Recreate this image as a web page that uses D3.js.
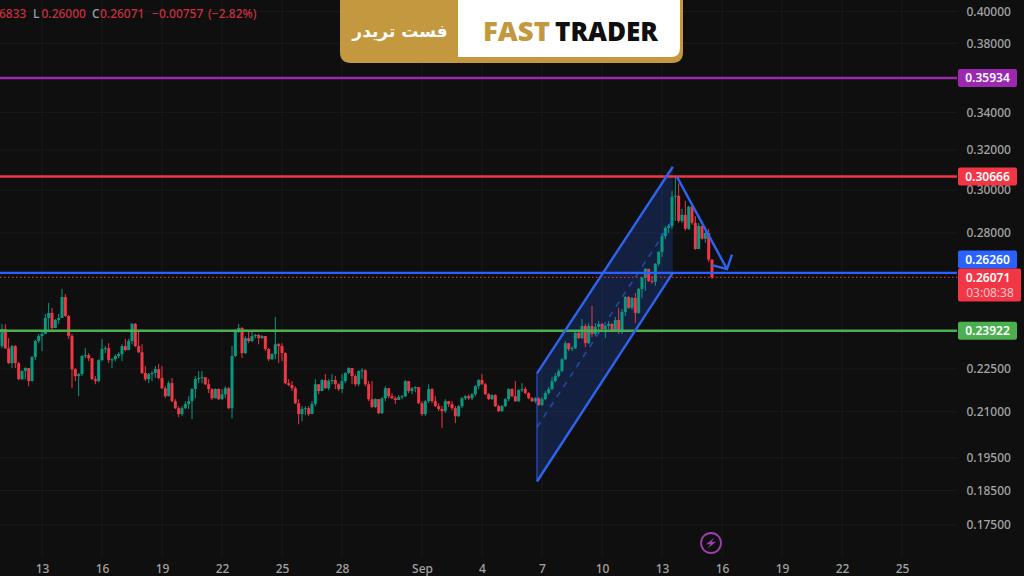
<!DOCTYPE html>
<html>
<head>
<meta charset="utf-8">
<script src="https://cdn.jsdelivr.net/npm/d3@7/dist/d3.min.js"></script>
<style>
html,body{margin:0;padding:0;background:#0f0f0f;overflow:hidden}
svg{display:block}
text{font-family:"Noto Sans",sans-serif}
</style>
</head>
<body>
<svg id="chart" width="1024" height="576"></svg>
<script>
// Four-hour candles, starting 11 Aug
const firstOpen = 0.2334;
const closes = [
.2399,.2326,.2271,.2334,.2271,.2213,.2242,.2253,.2206,.2293,.2353,.2372,.2380,.2442,.2462,.2403,.2434,.2442,.2526,.2450,
.2372,.2249,.2224,.2231,.2297,.2300,.2289,.2213,.2206,.2282,.2323,.2326,.2282,.2285,.2297,.2304,.2334,.2319,.2353,.2419,
.2334,.2311,.2235,.2213,.2231,.2235,.2249,.2217,.2181,.2153,.2199,.2136,.2112,.2092,.2112,.2126,.2136,.2178,.2213,.2217,
.2220,.2195,.2178,.2146,.2178,.2143,.2160,.2181,.2112,.2297,.2391,.2403,.2308,.2364,.2353,.2372,.2376,.2364,.2372,.2323,
.2285,.2304,.2341,.2334,.2308,.2199,.2192,.2181,.2129,.2092,.2109,.2112,.2092,.2126,.2195,.2171,.2210,.2181,.2206,.2210,
.2195,.2178,.2206,.2235,.2253,.2224,.2195,.2242,.2245,.2195,.2143,.2116,.2143,.2095,.2146,.2181,.2153,.2146,.2140,.2150,
.2153,.2206,.2171,.2181,.2185,.2129,.2092,.2136,.2178,.2136,.2119,.2109,.2102,.2136,.2126,.2112,.2085,.2119,.2146,.2153,
.2146,.2160,.2188,.2210,.2195,.2160,.2143,.2157,.2119,.2102,.2119,.2143,.2178,.2153,.2136,.2174,.2178,.2164,.2146,.2136,
.2146,.2123,.2143,.2164,.2178,.2206,.2224,.2242,.2285,.2345,.2323,.2326,.2384,.2364,.2411,.2345,.2411,.2380,.2407,.2419,
.2399,.2411,.2419,.2391,.2434,.2387,.2466,.2526,.2482,.2522,.2462,.2559,.2605,.2643,.2592,.2588,.2664,.2716,.2786,.2823,
.2832,.2968,.2973,.2855,.2883,.2819,.2921,.2846,.2729,.2832,.2774,.2800,.26828,.26071
];
const highs = [
.2418,.2418,.2364,.2338,.2338,.2275,.2245,.2256,.2253,.2297,.2357,.2380,.2391,.2458,.2502,.2482,.2438,.2458,.2559,.2538,
.2454,.2380,.2253,.2235,.2300,.2326,.2308,.2289,.2224,.2285,.2361,.2334,.2345,.2289,.2304,.2311,.2341,.2361,.2361,.2422,
.2422,.2391,.2341,.2260,.2235,.2242,.2260,.2267,.2260,.2188,.2206,.2217,.2143,.2119,.2119,.2136,.2153,.2181,.2224,.2242,
.2242,.2217,.2213,.2181,.2181,.2181,.2178,.2188,.2185,.2334,.2399,.2419,.2407,.2372,.2391,.2391,.2380,.2380,.2376,.2372,
.2326,.2308,.2446,.2345,.2345,.2311,.2213,.2206,.2188,.2143,.2119,.2119,.2119,.2136,.2213,.2195,.2213,.2231,.2213,.2231,
.2224,.2199,.2231,.2238,.2256,.2253,.2231,.2245,.2253,.2249,.2206,.2206,.2146,.2143,.2150,.2188,.2181,.2164,.2153,.2157,
.2157,.2210,.2206,.2185,.2188,.2181,.2136,.2140,.2195,.2181,.2153,.2129,.2119,.2143,.2136,.2136,.2119,.2123,.2150,.2157,
.2160,.2164,.2192,.2213,.2231,.2199,.2164,.2160,.2160,.2123,.2123,.2146,.2181,.2181,.2206,.2178,.2199,.2185,.2167,.2150,
.2150,.2150,.2150,.2171,.2185,.2220,.2235,.2249,.2289,.2353,.2345,.2334,.2395,.2391,.2438,.2419,.2422,.2490,.2422,.2430,
.2422,.2415,.2430,.2422,.2446,.2482,.2478,.2530,.2530,.2526,.2542,.2563,.2609,.2647,.2626,.2613,.2668,.2720,.2800,.2832,
.2841,.2997,.3065,.3032,.2911,.2949,.2925,.2930,.2878,.2846,.2832,.2828,.2819,.26833
];
const lows = [
.2326,.2323,.2267,.2253,.2253,.2210,.2210,.2213,.2188,.2206,.2282,.2345,.2315,.2380,.2391,.2391,.2403,.2419,.2442,.2446,
.2361,.2181,.2206,.2153,.2224,.2289,.2278,.2210,.2195,.2202,.2278,.2308,.2271,.2253,.2278,.2289,.2278,.2315,.2319,.2341,
.2330,.2308,.2231,.2206,.2199,.2206,.2217,.2213,.2178,.2146,.2153,.2133,.2109,.2082,.2085,.2109,.2109,.2075,.2146,.2199,
.2199,.2192,.2164,.2140,.2146,.2140,.2140,.2146,.2109,.2078,.2293,.2384,.2289,.2304,.2345,.2349,.2364,.2341,.2361,.2315,
.2278,.2282,.2285,.2271,.2278,.2195,.2188,.2171,.2126,.2058,.2068,.2088,.2085,.2095,.2119,.2160,.2171,.2178,.2174,.2195,
.2178,.2171,.2164,.2199,.2231,.2195,.2188,.2188,.2213,.2188,.2136,.2112,.2112,.2092,.2092,.2136,.2146,.2143,.2126,.2140,
.2143,.2150,.2164,.2160,.2167,.2126,.2085,.2085,.2129,.2129,.2116,.2102,.2045,.2095,.2116,.2105,.2062,.2082,.2112,.2140,
.2140,.2140,.2153,.2178,.2192,.2157,.2140,.2140,.2116,.2099,.2099,.2116,.2136,.2150,.2133,.2133,.2167,.2160,.2143,.2133,
.2129,.2119,.2119,.2140,.2160,.2174,.2202,.2220,.2238,.2282,.2315,.2315,.2323,.2361,.2361,.2330,.2341,.2368,.2372,.2380,
.2391,.2364,.2399,.2387,.2387,.2380,.2380,.2450,.2478,.2474,.2422,.2458,.2522,.2551,.2588,.2580,.2572,.2655,.2694,.2773,
.2800,.2819,.2855,.2846,.2846,.2810,.2814,.2837,.2725,.2729,.2770,.2756,.2673,.26000
];
const priceTicks = [0.4,0.38,0.34,0.32,0.3,0.28,0.225,0.21,0.195,0.185,0.175];
const dayTicks = [
  [7,13,"13"],[7,16,"16"],[7,19,"19"],[7,22,"22"],[7,25,"25"],[7,28,"28"],[8,1,"Sep"],[8,4,"4"],
  [8,7,"7"],[8,10,"10"],[8,13,"13"],[8,16,"16"],[8,19,"19"],[8,22,"22"],[8,25,"25"]
];
const levelValues = [0.35934,0.30666,0.26260,0.23922];
const levelColors = ["#9c27b0","#f23645","#2962ff","#4caf50"];
const lastPrice = 0.26071;
const countdown = "03:08:38";
const headerParts = [
  ["6833","#c8303f"],["L","#a0a0a0"],["0.26000","#c8303f"],["C","#a0a0a0"],["0.26071","#c8303f"],
  ["\u22120.00757","#c8303f"],["(\u22122.82%)","#c8303f"]
];
const headerStarts = [-1,33,41.5,92,100,152,208];
// Channel corners and the arrow as date/price anchors
const channelStart = [8,6,18], channelEnd = [8,13,13];
const channelTop = [0.2234,0.3115], channelMid = [0.2048,0.2860], channelBottom = [0.1877,0.2626];
const arrowPath = [[8,13,18,0.3065],[8,16,6,0.2642]];
const arrowWingA = [8,15,12,0.2659];
const arrowWingB = [8,16,12,0.2704];

const GREEN = "#089981", RED = "#f23645", BLUE = "#2e63f0";
const utc = (m,d,h=0) => new Date(Date.UTC(2024,m,d,h));
const x = d3.scaleUtc().domain([utc(7,13),utc(8,25)]).range([42,902]);
const y = d3.scaleLog().domain([0.4,0.175]).range([11.4,525]);
const plotRight = 957;
const svg = d3.select("#chart");
svg.append("rect").attr("width",1024).attr("height",576).attr("fill","#0f0f0f");

// Grid
const tickDates = dayTicks.map(t => utc(t[0],t[1]));
svg.append("g").selectAll("line").data(tickDates).join("line")
  .attr("x1",d=>x(d)).attr("x2",d=>x(d)).attr("y1",0).attr("y2",556)
  .attr("stroke","#1a1a1a");
svg.append("g").selectAll("line").data(priceTicks).join("line")
  .attr("x1",0).attr("x2",plotRight).attr("y1",d=>y(d)).attr("y2",d=>y(d))
  .attr("stroke","#1a1a1a");

// Axes
const labelByTime = new Map(dayTicks.map(t => [+utc(t[0],t[1]),t[2]]));
const xAxis = svg.append("g").attr("transform","translate(0,556)")
  .call(d3.axisBottom(x).tickValues(tickDates).tickSize(0).tickPadding(8).tickFormat(d=>labelByTime.get(+d)));
const yAxis = svg.append("g").attr("transform",`translate(966.5,0)`)
  .call(d3.axisRight(y).tickValues(priceTicks).tickSize(0).tickPadding(0).tickFormat(d3.format(".5f")));
[xAxis,yAxis].forEach(a=>{
  a.select(".domain").remove();
  a.selectAll("text").attr("fill","#a3a3a3").style("font-size","12px").style("font-weight",500).style("font-family",'"Noto Sans",sans-serif');
});

// Channel fill and its borders
const cx0 = x(utc(...channelStart)), cx1 = x(utc(...channelEnd));
const area = svg.append("g");
area.append("path")
  .attr("d",`M${cx0},${y(channelTop[0])}L${cx1},${y(channelTop[1])}L${cx1},${y(channelBottom[1])}L${cx0},${y(channelBottom[0])}Z`)
  .attr("fill","#2962ff").attr("fill-opacity",0.2);

// Candles
const candles = closes.map((c,i)=>({
  t:d3.utcHour.offset(utc(7,11),4*i),
  o:i?closes[i-1]:firstOpen, c, h:highs[i], l:lows[i]
}));
const bars = svg.append("g").selectAll("g").data(candles).join("g")
  .attr("fill",d=>d.c>=d.o?GREEN:RED).attr("stroke",d=>d.c>=d.o?GREEN:RED);
bars.append("line").attr("x1",d=>x(d.t)).attr("x2",d=>x(d.t))
  .attr("y1",d=>y(d.h)).attr("y2",d=>y(d.l)).attr("stroke-width",1);
bars.append("rect").attr("x",d=>x(d.t)-1.5).attr("width",3).attr("stroke","none")
  .attr("y",d=>y(Math.max(d.o,d.c))).attr("height",d=>Math.max(1,Math.abs(y(d.o)-y(d.c))));

// Horizontal levels and the last price line
svg.append("line").attr("x1",0).attr("x2",plotRight).attr("y1",y(lastPrice)).attr("y2",y(lastPrice))
  .attr("stroke",RED).attr("stroke-dasharray","1.5 2.5").attr("stroke-width",1.2).attr("stroke-opacity",0.8);
svg.append("g").selectAll("line").data(levelValues).join("line")
  .attr("x1",0).attr("x2",plotRight).attr("y1",d=>y(d)).attr("y2",d=>y(d))
  .attr("stroke",(d,i)=>levelColors[i]).attr("stroke-width",2.4);

// Channel lines over the candles
const channelLine = (pair,dash) => svg.append("line")
  .attr("x1",cx0).attr("x2",cx1).attr("y1",y(pair[0])).attr("y2",y(pair[1]))
  .attr("stroke",BLUE).attr("stroke-width",dash?1.6:2.4).attr("stroke-opacity",dash?0.6:1).attr("stroke-dasharray",dash||null);
channelLine(channelTop); channelLine(channelBottom); channelLine(channelMid,"6 6");
svg.append("line").attr("x1",cx0).attr("x2",cx0).attr("y1",y(channelTop[0])).attr("y2",y(channelBottom[0]))
  .attr("stroke",BLUE).attr("stroke-width",1.2).attr("stroke-opacity",0.8);

// Arrow from the peak down to the target
const pt = a => [x(utc(a[0],a[1],a[2])),y(a[3])];
const tip = pt(arrowPath[1]);
const arrowLine = d3.line();
svg.append("path").attr("d",arrowLine([pt(arrowPath[0]),tip])).attr("fill","none").attr("stroke",BLUE).attr("stroke-width",2.4);
svg.append("path").attr("d",arrowLine([pt(arrowWingA),tip,pt(arrowWingB)])).attr("fill","none").attr("stroke",BLUE).attr("stroke-width",2.4);

// Price tags on the axis
const tagY = [y(levelValues[0]),y(levelValues[1]),259.5,y(levelValues[3])];
levelValues.forEach((v,i)=>{
  svg.append("rect").attr("x",958).attr("y",tagY[i]-9).attr("width",59).attr("height",18).attr("rx",2).attr("fill",levelColors[i]);
  svg.append("text").attr("x",987.5).attr("y",tagY[i]+4.3).attr("text-anchor","middle")
    .attr("fill","#fff").style("font-size","12px").style("font-weight",600).text(d3.format(".5f")(v));
});
svg.append("rect").attr("x",958).attr("y",268.5).attr("width",63).attr("height",33).attr("rx",2).attr("fill",RED);
svg.append("text").attr("x",988).attr("y",282).attr("text-anchor","middle").attr("fill","#fff")
  .style("font-size","12px").style("font-weight",600).text(d3.format(".5f")(lastPrice));
svg.append("text").attr("x",990).attr("y",297).attr("text-anchor","middle").attr("fill","#fbc4c9")
  .style("font-size","12px").text(countdown);

// Partial OHLC header, running off the left edge
svg.append("g").selectAll("text").data(headerParts).join("text")
  .attr("x",(d,i)=>headerStarts[i]).attr("y",18)
  .attr("fill",d=>d[1]).style("font-size","12px").style("font-weight",500).text(d=>d[0]);

// Brand plate
const plate = svg.append("g");
plate.append("path").attr("d","M340,0H683V52Q683,63 672,63H351Q340,63 340,52Z").attr("fill","#c4983f");
plate.append("path").attr("d","M458,0H680V48Q680,57 671,57H458Z").attr("fill","#fff");
plate.append("text").attr("x",400).attr("y",36.5).attr("text-anchor","middle").attr("fill","#fff")
  .style("font-family",'"DejaVu Sans",sans-serif').style("font-weight",700).style("font-size","17px").text("فست تریدر");
plate.append("text").attr("x",483).attr("y",41).attr("fill","#c4983f")
  .style("font-family",'"Open Sans",sans-serif').style("font-weight",800).style("font-size","27px").attr("textLength",67).attr("lengthAdjust","spacingAndGlyphs").text("FAST");
plate.append("text").attr("x",555).attr("y",41).attr("fill","#0f0f0f")
  .style("font-family",'"Open Sans",sans-serif').style("font-weight",800).style("font-size","27px").attr("textLength",103).attr("lengthAdjust","spacingAndGlyphs").text("TRADER");

// Event marker
const marker = svg.append("g").attr("transform","translate(711,543)");
marker.append("circle").attr("r",10).attr("fill","none").attr("stroke","#9c3fb0").attr("stroke-width",1.8);
marker.append("path").attr("d","M3.5,-5.5L-5,1.2H-0.5L-3.5,5.5L5,-1.2H0.5Z").attr("fill","#9c3fb0");
</script>
</body>
</html>
